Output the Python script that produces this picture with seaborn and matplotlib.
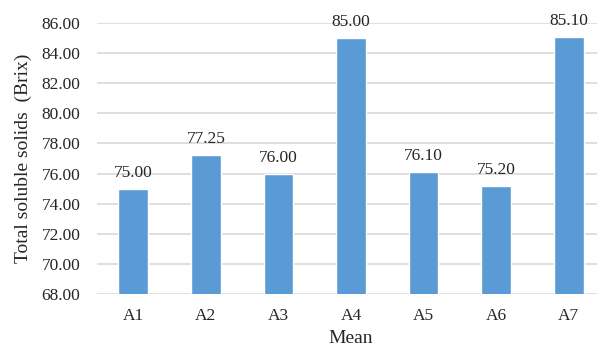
import matplotlib
matplotlib.use("Agg")
import matplotlib.pyplot as plt
import seaborn as sns
import pandas as pd

categories = ["A1", "A2", "A3", "A4", "A5", "A6", "A7"]
values = [75.00, 77.25, 76.00, 85.00, 76.10, 75.20, 85.10]
y_ticks = [68, 70, 72, 74, 76, 78, 80, 82, 84, 86]

sns.set_theme(style="white")
plt.rcParams["font.family"] = ["Liberation Serif", "DejaVu Serif"]

df = pd.DataFrame({"cat": categories, "val": values})

fig = plt.figure(figsize=(5.97, 3.48), dpi=100)
ax = fig.add_axes([97 / 597, 1 - 294 / 348, (605 - 97) / 597, (294 - 23) / 348])

sns.barplot(data=df, x="cat", y="val", color="#5B9BD5", width=0.41,
            saturation=1, ax=ax, zorder=3)

text_color = "#262626"
ax.set_ylim(68, 86)
ax.set_yticks(y_ticks)
ax.set_yticklabels([f"{t:.2f}" for t in y_ticks], fontsize=12.5, color=text_color)
ax.tick_params(axis="x", labelsize=12.5, colors=text_color, pad=10, length=0)
ax.tick_params(axis="y", pad=12, length=0)
ax.yaxis.grid(True, color="#D9D9D9", linewidth=1.2, zorder=0)
for s in ax.spines.values():
    s.set_visible(False)
ax.set_axisbelow(True)

for i, v in enumerate(values):
    ax.annotate(f"{v:.2f}", xy=(i, v), xytext=(0, 8.5), textcoords="offset points",
                ha="center", va="baseline", fontsize=12.5, color=text_color)

ax.set_xlabel("Mean", fontsize=14, color=text_color, labelpad=4.5)
ax.set_ylabel("Total soluble solids  (Brix)", fontsize=14, color=text_color, labelpad=7)

fig.savefig("out.png", dpi=100)
